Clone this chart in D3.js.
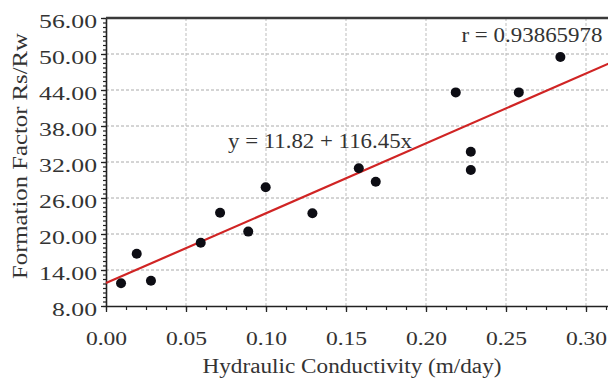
<!DOCTYPE html>
<html><head><meta charset="utf-8">
<script src="https://cdn.jsdelivr.net/npm/d3@7"></script>
<style>body{margin:0;background:#fff} svg{display:block;background:#fff}</style>
</head><body><svg id="c" width="608" height="379"></svg>
<script>
const conductivity    = [0.0094, 0.0192, 0.0281, 0.0592, 0.0713, 0.0889, 0.0998, 0.129, 0.158, 0.1686, 0.2186, 0.228, 0.228, 0.258, 0.284];
const formationFactor = [11.8,   16.7,   12.2,   18.55,  23.55,  20.4,   27.8,   23.45, 30.95, 28.7,   43.6,   33.7,  30.67, 43.6,  49.5];
const xTickValues = [0, 0.05, 0.10, 0.15, 0.20, 0.25, 0.30];
const yTickValues = [8, 14, 20, 26, 32, 38, 44, 50, 56];
const fitIntercept = 11.82, fitSlope = 116.45;
const equationLabel = "y = 11.82 + 116.45x";
const rLabel = "r = 0.93865978";
const xTitle = "Hydraulic Conductivity (m/day)";
const yTitle = "Formation Factor Rs/Rw";

const svg = d3.select("#c");
const x = d3.scaleLinear().domain([0, 0.315]).range([106, 610]);
const y = d3.scaleLinear().domain([8, 56]).range([306, 18]);
const font = "'Liberation Serif','Times New Roman',serif";
const textCol = "#333";

function stretch(sel, f) {
  sel.each(function () {
    const w = this.getComputedTextLength();
    d3.select(this).attr("textLength", w * f).attr("lengthAdjust", "spacingAndGlyphs");
  });
}

// grid
svg.append("g").selectAll("line").data(yTickValues.slice(1, -1)).join("line")
  .attr("x1", x(0)).attr("x2", 610).attr("y1", d => y(d)).attr("y2", d => y(d))
  .attr("stroke", "#aaa").attr("stroke-width", 1).attr("stroke-dasharray", "3,2");
svg.append("g").selectAll("line").data(xTickValues.slice(1)).join("line")
  .attr("y1", y(8)).attr("y2", y(56)).attr("x1", d => x(d)).attr("x2", d => x(d))
  .attr("stroke", "#bdbdbd").attr("stroke-width", 1).attr("stroke-dasharray", "3,2");

// minor ticks
const xMinor = d3.range(0, 0.3151, 0.0125);
const yMinor = d3.range(8, 56.01, 0.75);
svg.append("g").attr("transform", `translate(0,${y(8)})`)
  .call(d3.axisBottom(x).tickValues(xMinor).tickSize(4).tickFormat(""))
  .call(g => g.select(".domain").remove())
  .selectAll("line").attr("stroke", "#222").attr("stroke-width", 1.2);
svg.append("g").attr("transform", `translate(${x(0)},0)`)
  .call(d3.axisLeft(y).tickValues(yMinor).tickSize(3).tickFormat(""))
  .call(g => g.select(".domain").remove())
  .selectAll("line").attr("stroke", "#222").attr("stroke-width", 1.2);

// major axes
const xAxis = svg.append("g").attr("transform", `translate(0,${y(8)})`)
  .call(d3.axisBottom(x).tickValues(xTickValues).tickSize(6).tickPadding(20).tickFormat(d3.format(".2f")).tickSizeOuter(0));
xAxis.select(".domain").attr("stroke", "#222").attr("stroke-width", 1.6);
xAxis.selectAll("line").attr("stroke", "#222").attr("stroke-width", 1.3);
xAxis.selectAll("text").attr("font-family", font).attr("font-size", 19).attr("fill", textCol).call(stretch, 1.24);

const yAxis = svg.append("g").attr("transform", `translate(${x(0)},0)`)
  .call(d3.axisLeft(y).tickValues(yTickValues).tickSize(5).tickPadding(4).tickFormat(d3.format(".2f")).tickSizeOuter(0));
yAxis.select(".domain").attr("stroke", "#222").attr("stroke-width", 1.6);
yAxis.selectAll("line").attr("stroke", "#222").attr("stroke-width", 1.3);
yAxis.selectAll("text").attr("font-family", font).attr("font-size", 18).attr("fill", textCol).attr("dy", "0.5em").call(stretch, 1.43);

// top frame
svg.append("line").attr("x1", x(0)).attr("x2", 610).attr("y1", y(56)).attr("y2", y(56))
  .attr("stroke", "#3a3a3a").attr("stroke-width", 2.4);

// regression line
const xd = x.domain();
svg.append("line")
  .attr("x1", x(xd[0])).attr("y1", y(fitIntercept + fitSlope * xd[0]))
  .attr("x2", x(xd[1])).attr("y2", y(fitIntercept + fitSlope * xd[1]))
  .attr("stroke", "#d02424").attr("stroke-width", 2.2);

// points
svg.append("g").selectAll("circle").data(conductivity.map((c, i) => [c, formationFactor[i]])).join("circle")
  .attr("cx", d => x(d[0])).attr("cy", d => y(d[1])).attr("r", 5).attr("fill", "#0d0d14");

// annotations
svg.append("text").attr("x", 320).attr("y", 148).attr("text-anchor", "middle")
  .attr("font-family", font).attr("font-size", 21).attr("fill", textCol)
  .attr("textLength", 184).attr("lengthAdjust", "spacingAndGlyphs").text(equationLabel);
svg.append("text").attr("x", 532).attr("y", 41.5).attr("text-anchor", "middle")
  .attr("font-family", font).attr("font-size", 21).attr("fill", textCol)
  .attr("textLength", 141).attr("lengthAdjust", "spacingAndGlyphs").text(rLabel);

// titles
svg.append("text").attr("x", 352).attr("y", 373).attr("text-anchor", "middle")
  .attr("font-family", font).attr("font-size", 20).attr("fill", textCol)
  .attr("textLength", 299).attr("lengthAdjust", "spacingAndGlyphs").text(xTitle);
svg.append("text").attr("transform", "translate(27,156) rotate(-90)").attr("text-anchor", "middle")
  .attr("font-family", font).attr("font-size", 21).attr("fill", textCol)
  .attr("textLength", 246).attr("lengthAdjust", "spacingAndGlyphs").text(yTitle);
</script></body></html>
